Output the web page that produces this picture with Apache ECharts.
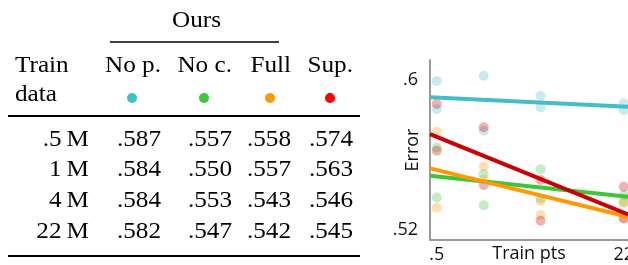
<!DOCTYPE html>
<html>
<head>
<meta charset="utf-8">
<script src="https://cdn.jsdelivr.net/npm/echarts@6/dist/echarts.min.js"></script>
<style>
  html, body { margin: 0; padding: 0; background: #fff; }
  #main { width: 628px; height: 265px; }
</style>
</head>
<body>
<div id="main"></div>
<script>
// table data
var trainData = ['.5\u2009M', '1\u2009M', '4\u2009M', '22\u2009M'];
var methods = ['No p.', 'No c.', 'Full', 'Sup.'];
var methodColors = ['#41bec8', '#3cc83c', '#ff9900', '#ff0000'];
var lineColors = ['#44bdc6', '#3ec43b', '#ff9900', '#cc0000'];
var noP = [0.587, 0.584, 0.584, 0.582];
var noC = [0.557, 0.550, 0.553, 0.547];
var full = [0.558, 0.557, 0.543, 0.542];
var sup = [0.574, 0.563, 0.546, 0.545];

// plot data: position of each training size on the x axis, and its label
var trainPts = ['.5', '1', '4', '22'];
var trainPos = [1, 2, 3.21, 4.98];
// individual runs (two per training size)
var runsNoP = [[0.5995, 0.5844], [0.6023, 0.5730], [0.5915, 0.5854], [0.5876, 0.5840]];
var runsNoC = [[0.5641, 0.5374], [0.5499, 0.5332], [0.5525, 0.5369], [0.5387, 0.5351]];
var runsFull = [[0.5724, 0.5319], [0.5541, 0.5470], [0.5355, 0.5280], [0.5345, 0.5262]];
var runsSup = [[0.5872, 0.5623], [0.5748, 0.5440], [0.5467, 0.5250], [0.5431, 0.5262]];
// fitted trend lines: value at left and right end of the plot
var fitNoP = [0.5908, 0.5858];
var fitNoC = [0.5490, 0.5378];
var fitFull = [0.5529, 0.5271];
var fitSup = [0.5712, 0.5284];

var xMin = 0.857, xMax = 5.07;
var serif = '"Liberation Serif", "Times New Roman", serif';
var sans = '"Open Sans", "Noto Sans", sans-serif';

function fmt(v) {
  return v.toFixed(3).replace(/^0/, '');
}

function txt(text, x, y, align) {
  return {
    type: 'text', x: x, y: y, scaleX: 1.05,
    style: {
      text: text, fontSize: 24, fontFamily: serif, fill: '#000',
      textAlign: align, align: align,
      textVerticalAlign: 'middle', verticalAlign: 'middle'
    }
  };
}

function rule(x1, x2, y, w) {
  return {
    type: 'line',
    shape: {x1: x1, y1: y, x2: x2, y2: y},
    style: {stroke: '#000', lineWidth: w}
  };
}

var colRight = [161, 232, 291, 353];
var colCenter = [132, 204, 270, 330];
var rowY = [140, 170, 201, 232];
var table = [noP, noC, full, sup];

var graphics = [
  txt('Ours', 172, 21, 'left'),
  rule(110, 279, 42, 1.3),
  txt('Train', 15, 66, 'left'),
  txt('data', 15, 95, 'left'),
  rule(8, 360, 116, 2),
  rule(8, 360, 256, 2)
];
methods.forEach(function(m, i) {
  graphics.push(txt(m, colRight[i], 66, 'right'));
  graphics.push({
    type: 'circle',
    shape: {cx: colCenter[i], cy: 98, r: 5},
    style: {fill: methodColors[i]}
  });
});
trainData.forEach(function(t, r) {
  graphics.push(txt(t, 89, rowY[r], 'right'));
  table.forEach(function(col, c) {
    graphics.push(txt(fmt(col[r]), colRight[c], rowY[r], 'right'));
  });
});

var runs = [runsNoP, runsNoC, runsFull, runsSup];
var fits = [fitNoP, fitNoC, fitFull, fitSup];
var series = [];
runs.forEach(function(r, i) {
  var pts = [];
  r.forEach(function(vals, k) {
    vals.forEach(function(v) {
      pts.push([trainPos[k], v]);
    });
  });
  series.push({
    type: 'scatter', data: pts, symbolSize: 10, silent: true,
    itemStyle: {color: lineColors[i], opacity: 0.3}
  });
});
fits.forEach(function(f, i) {
  series.push({
    type: 'line', data: [[xMin, f[0]], [xMax, f[1]]],
    symbol: 'none', silent: true, z: 3,
    lineStyle: {color: lineColors[i], width: 4}
  });
});

var chart = echarts.init(document.getElementById('main'), null, {renderer: 'canvas'});
chart.setOption({
  animation: false,
  grid: {left: 430, right: 0, top: 60, bottom: 25, outerBoundsMode: 'none', containLabel: false},
  xAxis: {
    type: 'value', min: xMin, max: xMax,
    name: 'Train pts', nameLocation: 'middle', nameGap: 14, nameMoveOverlap: false,
    nameTextStyle: {fontSize: 18, fontFamily: sans, color: '#111', verticalAlign: 'middle'},
    axisLine: {show: true, lineStyle: {color: '#999', width: 2}},
    axisTick: {show: false},
    splitLine: {show: false},
    axisLabel: {
      customValues: [trainPos[0], trainPos[3]],
      fontSize: 18, fontFamily: sans, color: '#111', margin: 6,
      showMaxLabel: true, showMinLabel: true, hideOverlap: false,
      formatter: function(v) {
        var i = trainPos.indexOf(v);
        return i >= 0 ? trainPts[i] : '';
      }
    }
  },
  yAxis: {
    type: 'value', min: 0.5147, max: 0.6107,
    name: 'Error', nameLocation: 'middle', nameGap: 17, nameMoveOverlap: false,
    nameTextStyle: {fontSize: 18, fontFamily: sans, color: '#111', verticalAlign: 'middle'},
    axisLine: {show: true, lineStyle: {color: '#999', width: 2}},
    axisTick: {show: false},
    splitLine: {show: false},
    axisLabel: {
      customValues: [0.52, 0.6],
      fontSize: 18, fontFamily: sans, color: '#111', margin: 12,
      formatter: function(v) {
        return String(Math.round(v * 100) / 100).replace(/^0/, '');
      }
    }
  },
  series: series,
  graphic: graphics
});
</script>
</body>
</html>
